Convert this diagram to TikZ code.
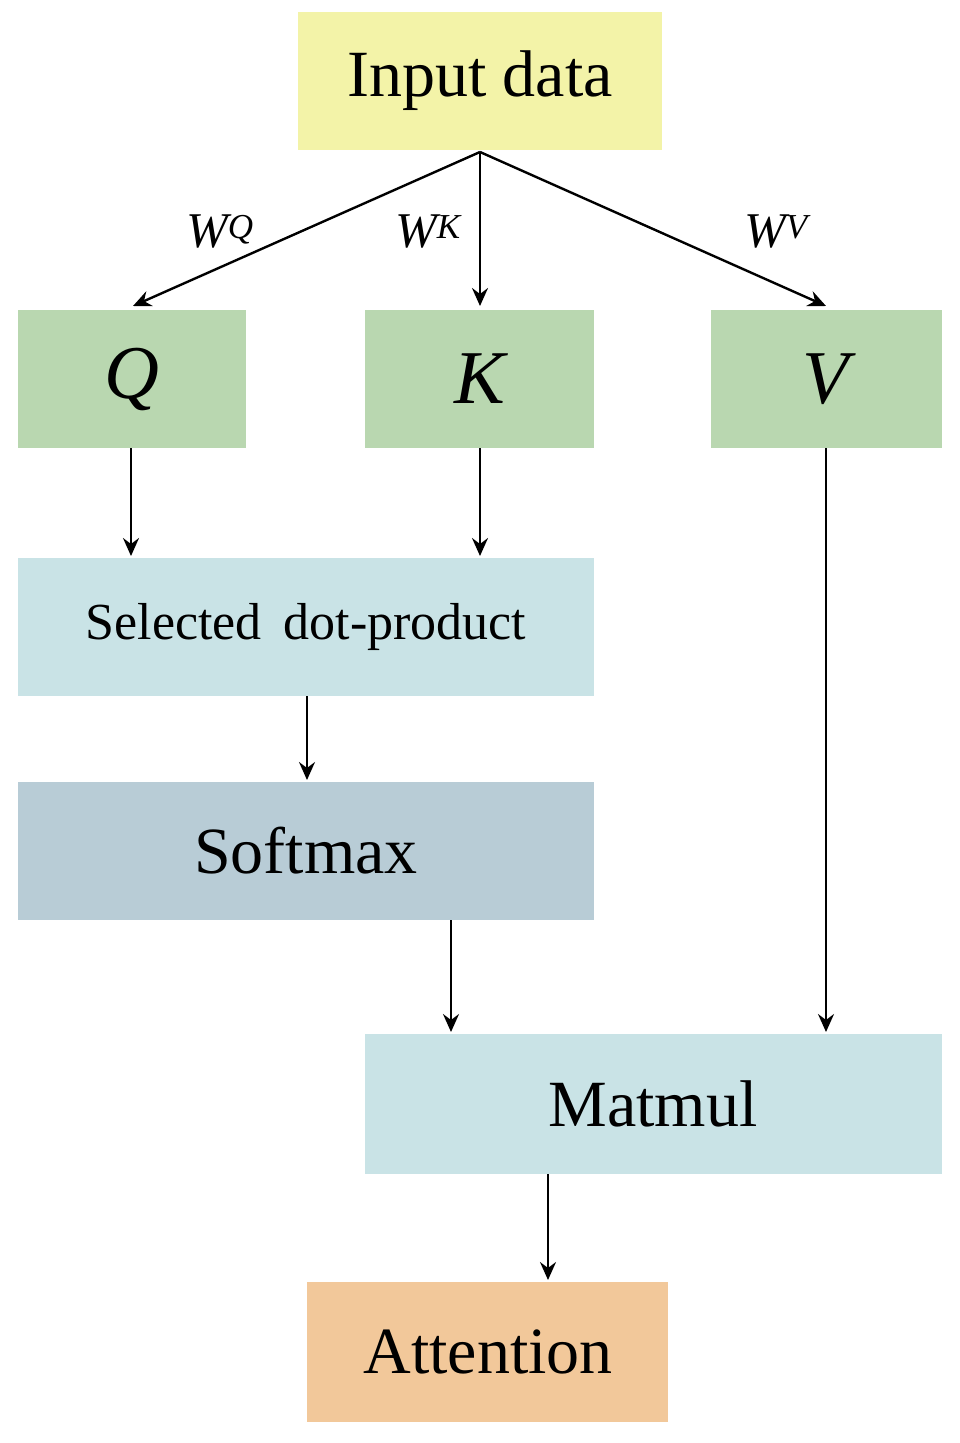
\documentclass[tikz,border=0pt]{standalone}
\usepackage{fontspec}
\setmainfont{Liberation Serif}
\usetikzlibrary{arrows.meta}
\definecolor{cy}{HTML}{F3F3A8}
\definecolor{cg}{HTML}{B9D7B0}
\definecolor{cb}{HTML}{C9E3E6}
\definecolor{cs}{HTML}{B8CCD6}
\definecolor{co}{HTML}{F2C89A}
\begin{document}
\begin{tikzpicture}[x=1pt,y=-1pt,
 box/.style={draw=none,inner sep=0pt,font=\fontsize{66}{70}\selectfont},
 arr/.style={line width=2.4pt,-{Stealth[length=18pt,width=16pt,inset=6pt]}},
 lab/.style={font=\fontsize{50}{54}\selectfont\itshape}]
\useasboundingbox (0,0) rectangle (960,1443);
\fill[cy] (298,12) rectangle (662,150); \node[box] (in) at (480,81) {Input data};
\fill[cg] (18,310) rectangle (246,448); \node[box,font=\fontsize{76}{80}\selectfont\itshape] (q) at (132,379) {Q};
\fill[cg] (365,310) rectangle (594,448); \node[box,font=\fontsize{76}{80}\selectfont\itshape] (k) at (480,379) {K};
\fill[cg] (711,310) rectangle (942,448); \node[box,font=\fontsize{76}{80}\selectfont\itshape] (v) at (826,379) {V};
\fill[cb] (18,558) rectangle (594,696); \node[box,font=\fontsize{52}{56}\selectfont] (sel) at (306,627) {Selected\, dot-product};
\fill[cs] (18,782) rectangle (594,920); \node[box] (sm) at (306,851) {Softmax};
\fill[cb] (365,1034) rectangle (942,1174); \node[box] (mm) at (653,1104) {Matmul};
\fill[co] (307,1282) rectangle (668,1422); \node[box] (at) at (488,1352) {Attention};
\coordinate (s) at (480,152);
\coordinate (qt) at (133,306); \coordinate (kt) at (480,306); \coordinate (vt) at (826,306);
\draw[arr] (s) -- (qt); \draw[arr] (s) -- (kt); \draw[arr] (s) -- (vt);
\node[lab] at (220,232) {W\textsuperscript{Q}};
\node[lab] at (428,232) {W\textsuperscript{K}};
\node[lab] at (776,232) {W\textsuperscript{V}};
\coordinate (a1) at (131,448); \coordinate (b1) at (131,556);
\coordinate (a2) at (480,448); \coordinate (b2) at (480,556);
\coordinate (a3) at (307,696); \coordinate (b3) at (307,780);
\coordinate (a4) at (451,920); \coordinate (b4) at (451,1032);
\coordinate (a5) at (826,448); \coordinate (b5) at (826,1032);
\coordinate (a6) at (548,1174); \coordinate (b6) at (548,1280);
\foreach \i in {1,...,6} \draw[arr] (a\i) -- (b\i);
\end{tikzpicture}
\end{document}
